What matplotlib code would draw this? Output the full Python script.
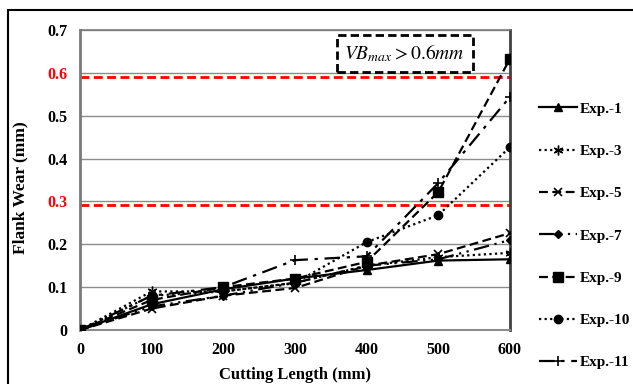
import matplotlib
matplotlib.use("Agg")
import matplotlib.pyplot as plt
from matplotlib.patches import Rectangle

plt.rcParams["font.family"] = ["Liberation Serif", "DejaVu Serif"]
plt.rcParams["mathtext.fontset"] = "stix"

# cutting length (mm)
length = [0, 100, 200, 300, 400, 500, 600]

# flank wear (mm)
exp1 = [0, 0.060, 0.095, 0.120, 0.140, 0.162, 0.165]
exp3 = [0, 0.090, 0.090, 0.110, 0.150, 0.170, 0.180]
exp5 = [0, 0.050, 0.080, 0.098, 0.150, 0.177, 0.226]
exp7 = [0, 0.055, 0.080, 0.110, 0.150, 0.165, 0.210]
exp9 = [0, 0.070, 0.100, 0.120, 0.159, 0.322, 0.633]
exp10 = [0, 0.080, 0.090, 0.110, 0.205, 0.268, 0.427]
exp11 = [0, 0.080, 0.100, 0.163, 0.172, 0.343, 0.544]

labels = ["Exp.-1", "Exp.-3", "Exp.-5", "Exp.-7", "Exp.-9", "Exp.-10", "Exp.-11"]
yticks = [0, 0.1, 0.2, 0.3, 0.4, 0.5, 0.6, 0.7]
ytick_labels = ["0", "0.1", "0.2", "0.3", "0.4", "0.5", "0.6", "0.7"]
limits = [0.6, 0.3]

fig = plt.figure(figsize=(6.33, 3.84), dpi=100)
ax = fig.add_axes([80/633, 54/384, 430/633, 300/384])

# outer chart frame (cut off at right and bottom)
fig.patches.append(Rectangle((8/633, -0.1), 1.2, 1.1 - 10/384,
                             transform=fig.transFigure, fill=False,
                             ec="black", lw=1.5))

for v in yticks[1:]:
    ax.axhline(v, color="#8c8c8c", lw=1.0, zorder=1)
for v in limits:
    ax.axhline(v - 0.009, color="red", lw=2.0, ls=(0, (3.2, 1.6)), zorder=2)

styles = [
    dict(ls="-", marker="^", ms=6),
    dict(ls=(0, (1, 1.5)), marker=(6, 2, 0), ms=7, mew=1.0),
    dict(ls=(0, (4, 2)), marker="x", ms=6, mew=1.2),
    dict(ls=(0, (7, 2.5, 1, 2.5, 1, 2.5)), marker="D", ms=4.5),
    dict(ls=(0, (4, 2)), marker="s", ms=6.5),
    dict(ls=(0, (1, 1.5)), marker="o", ms=6),
    dict(ls=(0, (7, 3, 1.5, 3)), marker="+", ms=7, mew=1.2),
]
series = [exp1, exp3, exp5, exp7, exp9, exp10, exp11]
for y, lab, st in zip(series, labels, styles):
    ax.plot(length, y, color="black", lw=1.6, label=lab, zorder=3, **st)

ax.set_xlim(0, 600)
ax.set_ylim(0, 0.7)
ax.set_xticks(length)
ax.set_xticklabels([str(v) for v in length], fontweight="bold", fontsize=11.5)
ax.set_yticks(yticks)
ax.set_yticklabels(ytick_labels, fontweight="bold", fontsize=11.5)
for t in ax.get_yticklabels():
    if t.get_text() in ("0.3", "0.6"):
        t.set_color("red")
ax.tick_params(length=0, pad=9)

ax.spines["left"].set_color("#7a7a7a")
ax.spines["left"].set_linewidth(2.0)
ax.spines["bottom"].set_color("#8c8c8c")
ax.spines["bottom"].set_linewidth(1.5)
ax.spines["top"].set_color("#7a7a7a")
ax.spines["top"].set_linewidth(1.2)
ax.spines["right"].set_color("#404040")
ax.spines["right"].set_linewidth(2.0)

ax.set_xlabel("Cutting Length (mm)", fontweight="bold", fontsize=12)
ax.xaxis.set_label_coords(0.5, -0.122)
ax.set_ylabel("Flank Wear (mm)", fontweight="bold", fontsize=12.5)
ax.yaxis.set_label_coords(-0.121, 0.473)

ax.text(453, 0.646, r"$VB_{max} > 0.6mm$", ha="center", va="center",
        fontsize=14,
        bbox=dict(boxstyle="square,pad=0.4", fc="white", ec="black",
                  lw=2.0, ls=(0, (3, 1.5))), zorder=5)

leg = ax.legend(loc="upper left", bbox_to_anchor=(533/633, 1 - 96/384),
                bbox_transform=fig.transFigure, frameon=False,
                prop=dict(weight="bold", size=11), handlelength=2.45,
                handletextpad=0.2, labelspacing=1.87, borderaxespad=0)

fig.savefig("out.png", dpi=100)
